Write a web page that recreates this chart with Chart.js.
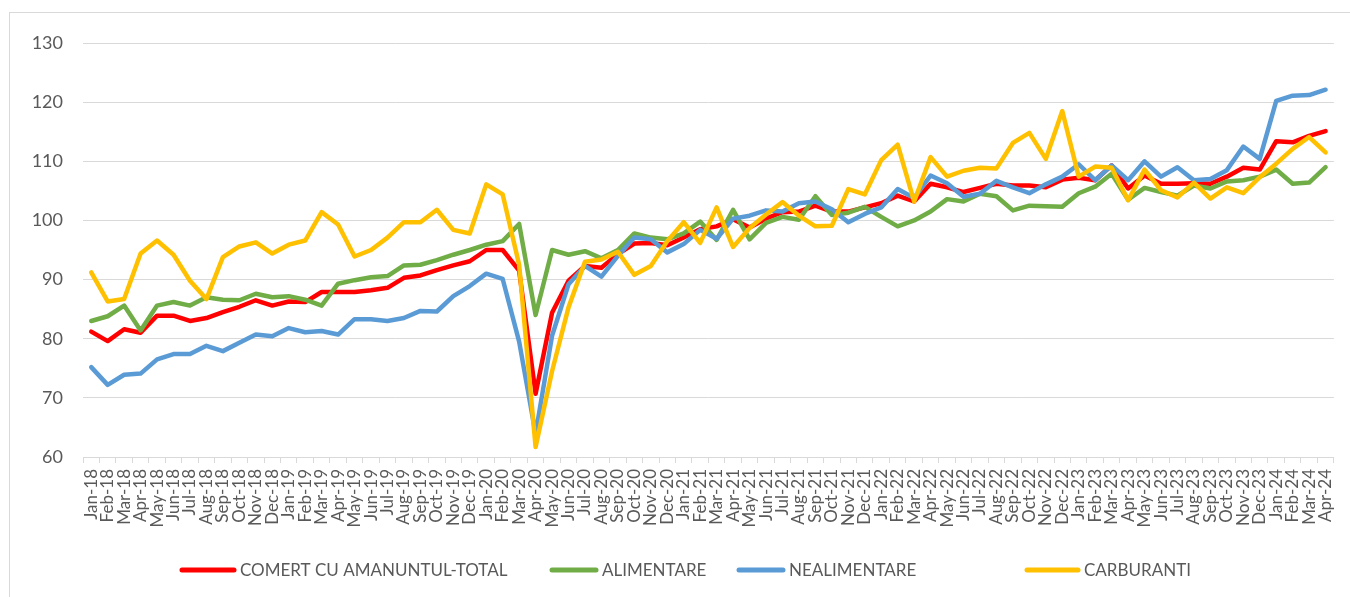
<!DOCTYPE html>
<html>
<head>
<meta charset="utf-8">
<script src="https://cdn.jsdelivr.net/npm/chart.js@4"></script>
<style>
  html, body { margin: 0; padding: 0; background: #fff; overflow: hidden; }
  #frame { position: absolute; left: 9px; top: 12px; width: 2000px; height: 1000px; border: 1px solid #d9d9d9; }
  #myChart { position: absolute; left: 0; top: 0; }
</style>
</head>
<body>
<div id="frame"></div>
<canvas id="myChart" width="1352" height="597"></canvas>
<script>
var months = [
  "Jan-18","Feb-18","Mar-18","Apr-18","May-18","Jun-18","Jul-18","Aug-18","Sep-18","Oct-18","Nov-18","Dec-18",
  "Jan-19","Feb-19","Mar-19","Apr-19","May-19","Jun-19","Jul-19","Aug-19","Sep-19","Oct-19","Nov-19","Dec-19",
  "Jan-20","Feb-20","Mar-20","Apr-20","May-20","Jun-20","Jul-20","Aug-20","Sep-20","Oct-20","Nov-20","Dec-20",
  "Jan-21","Feb-21","Mar-21","Apr-21","May-21","Jun-21","Jul-21","Aug-21","Sep-21","Oct-21","Nov-21","Dec-21",
  "Jan-22","Feb-22","Mar-22","Apr-22","May-22","Jun-22","Jul-22","Aug-22","Sep-22","Oct-22","Nov-22","Dec-22",
  "Jan-23","Feb-23","Mar-23","Apr-23","May-23","Jun-23","Jul-23","Aug-23","Sep-23","Oct-23","Nov-23","Dec-23",
  "Jan-24","Feb-24","Mar-24","Apr-24"
];

var total = [
  81.2, 79.6, 81.6, 81.0, 83.9, 83.9, 83.0, 83.5, 84.5, 85.4, 86.5, 85.6,
  86.3, 86.2, 87.9, 87.9, 87.9, 88.2, 88.6, 90.3, 90.7, 91.6, 92.4, 93.1,
  95.0, 95.0, 91.5, 70.7, 84.4, 89.8, 92.3, 92.0, 94.3, 96.1, 96.2, 95.8,
  97.1, 98.5, 99.0, 100.2, 98.8, 100.3, 101.4, 101.5, 102.5, 101.5, 101.5, 102.2,
  102.9, 104.2, 103.2, 106.2, 105.6, 104.8, 105.5, 106.2, 105.9, 105.9, 105.6, 106.9,
  107.2, 106.8, 109.3, 105.4, 107.6, 106.2, 106.2, 106.3, 106.2, 107.4, 108.9, 108.6,
  113.4, 113.2, 114.3, 115.1
];

var alimentare = [
  83.0, 83.8, 85.6, 81.4, 85.6, 86.2, 85.6, 87.0, 86.6, 86.5, 87.6, 87.0,
  87.2, 86.6, 85.6, 89.3, 89.9, 90.4, 90.6, 92.4, 92.5, 93.3, 94.2, 95.0,
  95.9, 96.5, 99.4, 84.0, 95.0, 94.2, 94.8, 93.6, 95.0, 97.8, 97.1, 96.8,
  97.8, 99.8, 96.7, 101.8, 96.8, 99.6, 100.6, 100.1, 104.1, 100.9, 101.3, 102.3,
  100.6, 99.0, 100.0, 101.5, 103.6, 103.2, 104.5, 104.1, 101.7, 102.5, 102.4, 102.3,
  104.6, 105.7, 107.9, 103.5, 105.5, 104.8, 104.2, 105.9, 105.4, 106.6, 106.8, 107.4,
  108.6, 106.2, 106.4, 109.0
];

var nealimentare = [
  75.2, 72.2, 73.9, 74.1, 76.5, 77.4, 77.4, 78.8, 77.9, 79.3, 80.7, 80.4,
  81.8, 81.1, 81.3, 80.7, 83.3, 83.3, 83.0, 83.5, 84.7, 84.6, 87.2, 88.9,
  91.0, 90.1, 79.5, 63.9, 80.5, 89.2, 92.3, 90.5, 94.0, 97.1, 96.8, 94.6,
  96.0, 98.4, 96.9, 100.3, 100.8, 101.7, 101.5, 102.9, 103.2, 101.9, 99.7, 101.1,
  102.2, 105.3, 103.8, 107.6, 106.3, 104.0, 104.5, 106.7, 105.6, 104.6, 106.1, 107.4,
  109.5, 106.8, 109.3, 106.8, 110.0, 107.4, 109.0, 106.8, 107.0, 108.5, 112.5, 110.4,
  120.2, 121.1, 121.2, 122.1
];

var carburanti = [
  91.2, 86.3, 86.7, 94.4, 96.6, 94.2, 89.8, 86.7, 93.8, 95.6, 96.3, 94.4,
  95.9, 96.6, 101.4, 99.3, 93.9, 95.0, 97.1, 99.7, 99.7, 101.8, 98.4, 97.8,
  106.1, 104.4, 92.5, 61.7, 74.5, 85.3, 93.0, 93.4, 94.7, 90.8, 92.3, 96.5,
  99.7, 96.2, 102.2, 95.5, 98.7, 101.0, 103.1, 100.8, 99.0, 99.1, 105.3, 104.4,
  110.2, 112.8, 103.2, 110.7, 107.4, 108.4, 108.9, 108.8, 113.1, 114.8, 110.4, 118.5,
  107.4, 109.1, 108.9, 103.4, 108.6, 105.1, 103.9, 106.4, 103.7, 105.6, 104.6, 107.3,
  109.6, 112.1, 114.1, 111.5
];

var seriesNames = ["COMERT CU AMANUNTUL-TOTAL", "ALIMENTARE", "NEALIMENTARE", "CARBURANTI"];
var seriesColors = ["#ff0000", "#70ad47", "#5b9bd5", "#ffc000"];

// legend is drawn by hand so the entries sit where Excel put them
var legendStart = [182, 552, 739, 1027];
var legendLen = [52, 44, 44, 51];

function makeSet(i, values) {
  return {
    label: seriesNames[i],
    data: values,
    borderColor: seriesColors[i],
    backgroundColor: seriesColors[i],
    borderWidth: 4.5,
    borderJoinStyle: "round",
    borderCapStyle: "round",
    pointRadius: 0,
    tension: 0,
    order: 3 - i, // later series drawn on top, like Excel
  };
}

var excelLegend = {
  id: "excelLegend",
  afterDraw: function (chart) {
    var ctx = chart.ctx;
    ctx.save();
    ctx.font = "17px Lato";
    ctx.textBaseline = "middle";
    ctx.fillStyle = "#595959";
    chart.data.datasets.forEach(function (ds, i) {
      var x = legendStart[i];
      var y = 570;
      ctx.strokeStyle = ds.borderColor;
      ctx.lineWidth = 5;
      ctx.lineCap = "round";
      ctx.beginPath();
      ctx.moveTo(x, y);
      ctx.lineTo(x + legendLen[i], y);
      ctx.stroke();
      ctx.fillText(ds.label, x + legendLen[i] + 6, y + 1);
    });
    ctx.restore();
  },
};

const ctx = document.getElementById("myChart");

new Chart(ctx, {
  type: "line",
  data: {
    labels: months,
    datasets: [
      makeSet(0, total),
      makeSet(1, alimentare),
      makeSet(2, nealimentare),
      makeSet(3, carburanti),
    ],
  },
  options: {
    responsive: false,
    animation: false,
    devicePixelRatio: 1,
    layout: { padding: { top: 43, left: 0, right: 0, bottom: 60 } },
    plugins: {
      legend: { display: false },
      tooltip: { enabled: false },
    },
    scales: {
      y: {
        min: 60,
        max: 130,
        afterFit: function (scale) { scale.width = 83; },
        ticks: {
          stepSize: 10,
          padding: 20,
          color: "#595959",
          font: { family: "Lato", size: 18 },
        },
        grid: { color: "#d9d9d9", lineWidth: 1, drawTicks: false },
        border: { display: false },
      },
      x: {
        offset: true,
        afterFit: function (scale) { scale.height = 80; },
        ticks: {
          autoSkip: false,
          maxRotation: 90,
          minRotation: 90,
          padding: 6,
          color: "#595959",
          font: { family: "Lato", size: 17 },
        },
        grid: {
          offset: true,
          drawOnChartArea: false,
          drawTicks: true,
          tickLength: 6,
          color: "#d9d9d9",
        },
        border: { color: "#d9d9d9", width: 1 },
      },
    },
  },
  plugins: [excelLegend],
});
</script>
</body>
</html>
